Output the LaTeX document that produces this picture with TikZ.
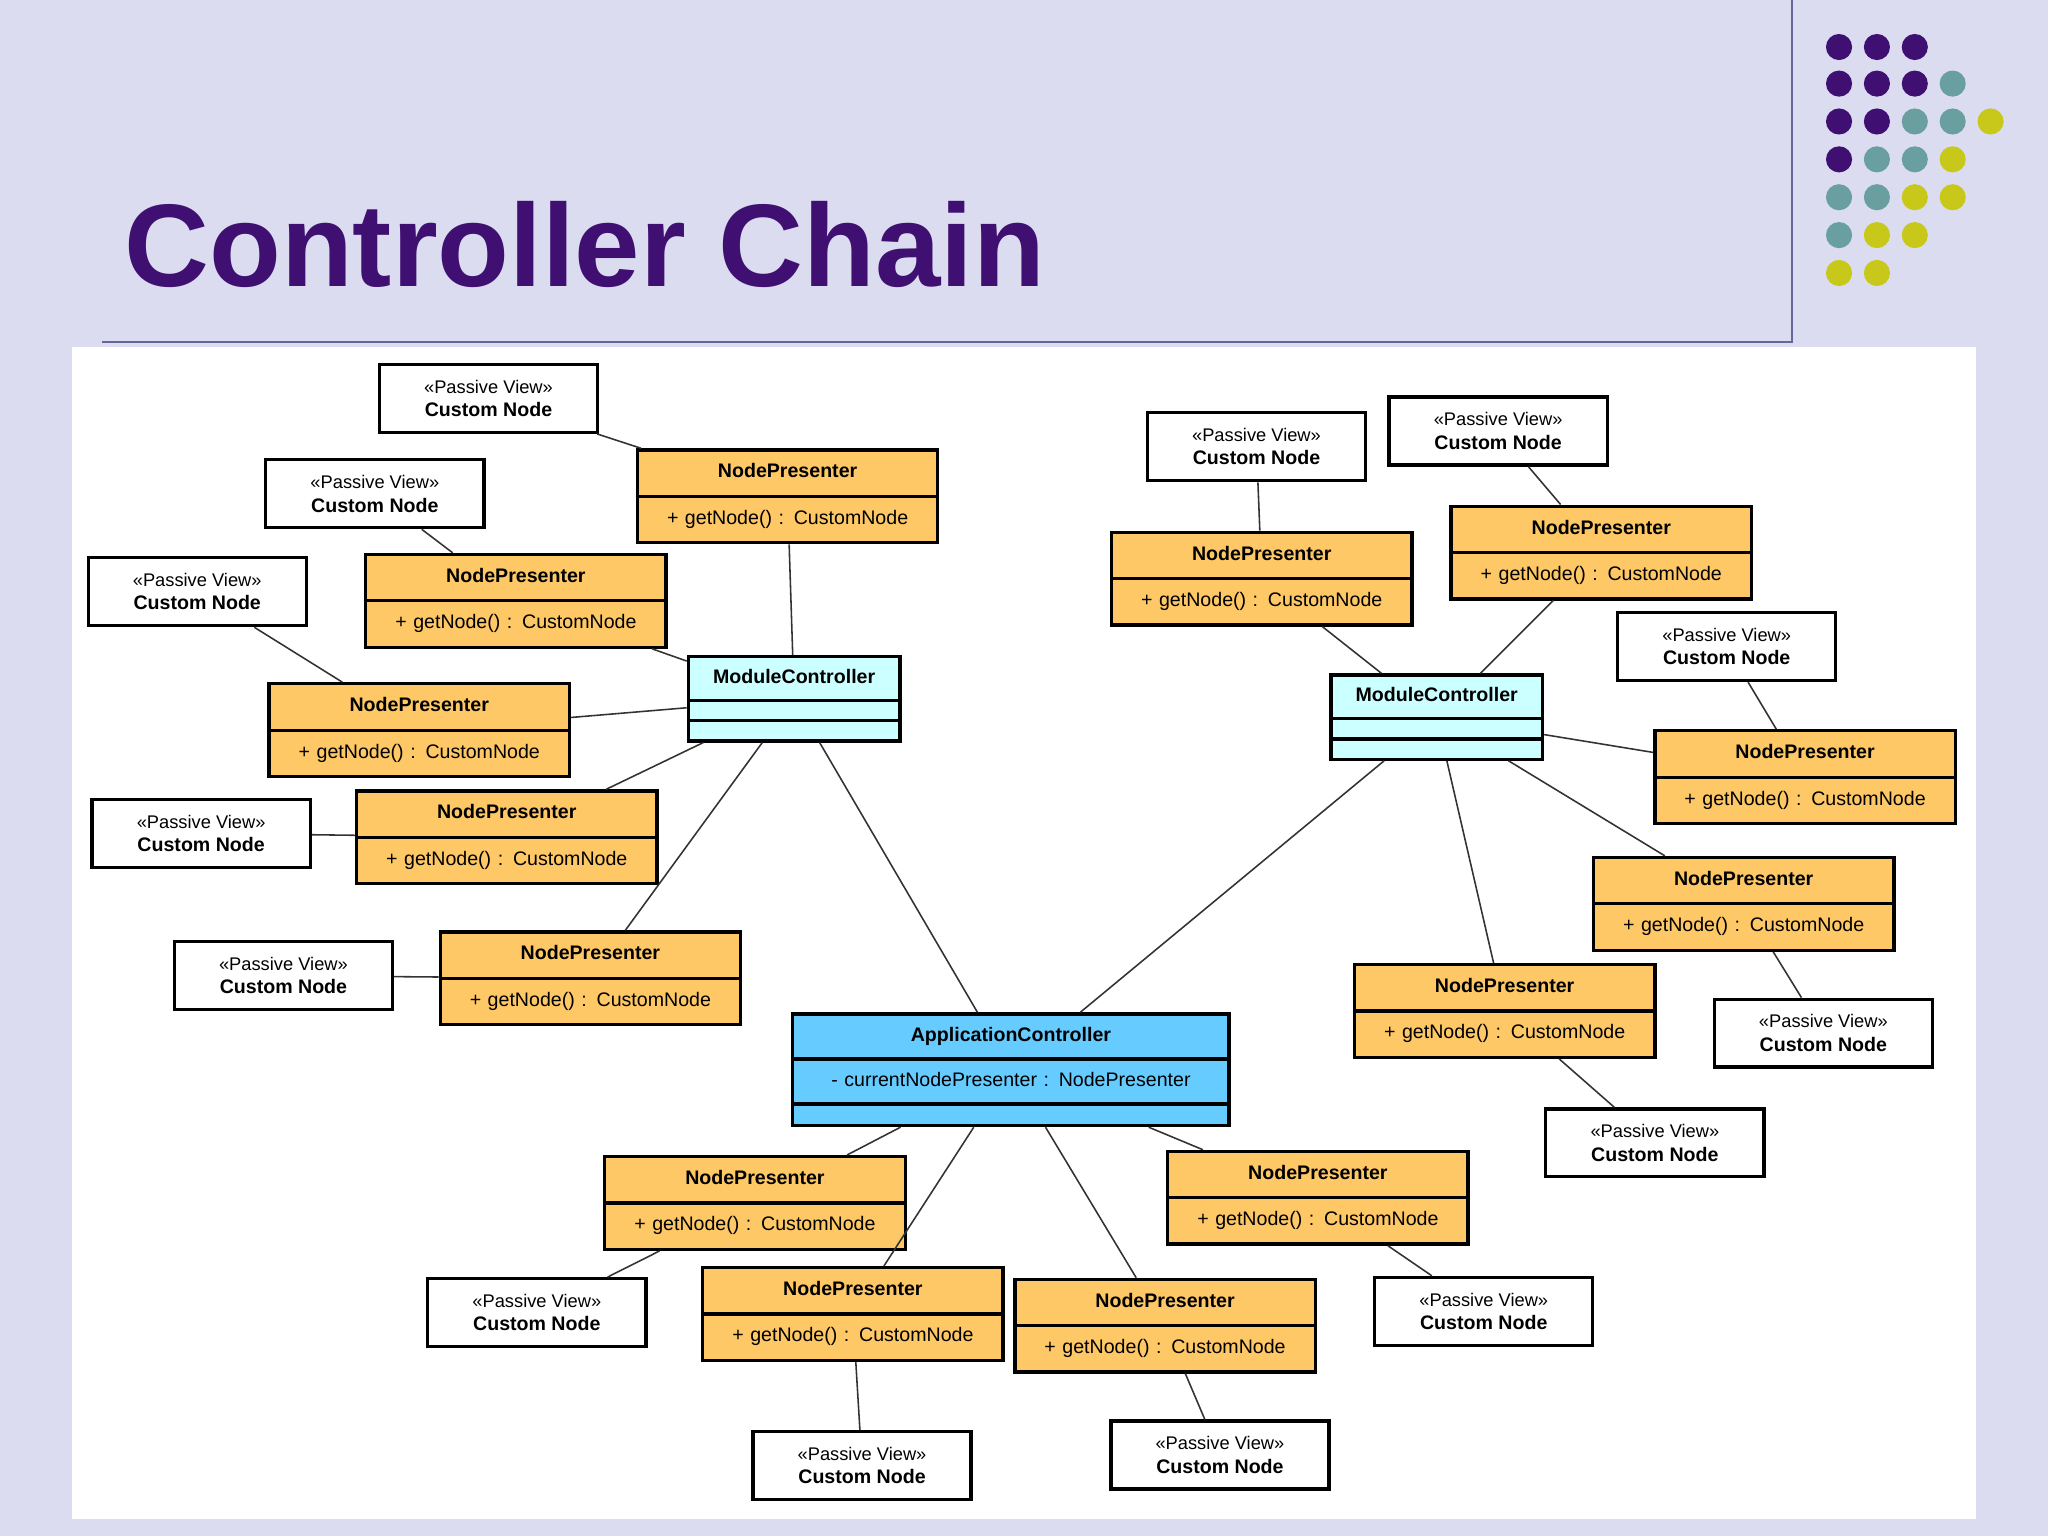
\documentclass[tikz,border=0pt]{standalone}
\usepackage{fontspec}
\setmainfont{Liberation Sans}
\usetikzlibrary{shapes.multipart}
\definecolor{slidebg}{HTML}{DCDCF0}
\definecolor{titlecol}{HTML}{3F0F72}
\definecolor{dotpurple}{HTML}{3F0F72}
\definecolor{dotteal}{HTML}{6A9FA0}
\definecolor{dotyellow}{HTML}{C8C81A}
\definecolor{presenter}{HTML}{FDC865}
\definecolor{modulec}{HTML}{CCFFFF}
\definecolor{appc}{HTML}{66CCFF}
\newcommand{\pvfont}{\fontsize{14}{17}\selectfont}
\newcommand{\npfont}{\fontsize{15}{18}\selectfont}

\begin{document}
\begin{tikzpicture}[x=1pt,y=-1pt,
    custom/.style={draw=black,line width=2.5pt,fill=white,minimum width=167pt,
        minimum height=52pt,align=center,inner sep=2pt,font=\npfont},
    presenter/.style={rectangle split,rectangle split parts=2,draw=black,
        line width=2.5pt,fill=presenter,text width=216pt,align=center,
        inner xsep=7pt,inner ysep=7.5pt,font=\npfont},
    module/.style={rectangle split,rectangle split parts=3,draw=black,
        line width=2.5pt,fill=modulec,text width=148pt,align=center,
        inner xsep=7pt,inner ysep=6.5pt,font=\npfont},
    app/.style={rectangle split,rectangle split parts=3,draw=black,
        line width=2.5pt,fill=appc,text width=320pt,align=center,
        inner xsep=7pt,inner ysep=7pt,font=\npfont},
    link/.style={line width=1.2pt,draw=black!80}]
\useasboundingbox (0,0) rectangle (1568,1176);
\fill[slidebg] (0,0) rectangle (1568,1176);
\draw[gray!80!blue,line width=1.5pt] (1372,0) -- (1372,262) -- (78,262);
\fill[white] (55,266) rectangle (1513,1163);

% title
\node[anchor=base west,inner sep=0pt,text=titlecol,
    font=\fontsize{90}{100}\selectfont\bfseries] (title) at (95,219) {Controller Chain};

% corner dots
\foreach \x/\y/\c in {1408/36/dotpurple,1437/36/dotpurple,1466/36/dotpurple,
    1408/64/dotpurple,1437/64/dotpurple,1466/64/dotpurple,1495/64/dotteal,
    1408/93/dotpurple,1437/93/dotpurple,1466/93/dotteal,1495/93/dotteal,1524/93/dotyellow,
    1408/122/dotpurple,1437/122/dotteal,1466/122/dotteal,1495/122/dotyellow,
    1408/151/dotteal,1437/151/dotteal,1466/151/dotyellow,1495/151/dotyellow,
    1408/180/dotteal,1437/180/dotyellow,1466/180/dotyellow,
    1408/209/dotyellow,1437/209/dotyellow}
    \fill[\c] (\x,\y) circle (10);

% controllers
\node[module] (mc1) at (608,535) {\textbf{ModuleController}\strut\nodepart{two}\nodepart{three}};
\node[module] (mc2) at (1100,549) {\textbf{ModuleController}\strut\nodepart{two}\nodepart{three}};
\node[app] (ac) at (774,819) {\textbf{ApplicationController}\strut
    \nodepart{two}- currentNodePresenter : NodePresenter\strut\nodepart{three}};

% presenters
\foreach \n/\x/\y in {p1/603/380,p2/395/460,p3/321/559,p4/388/641,p5/452/749,
    p6/966/443,p7/1226/423,p8/1382/595,p9/1335/692,p10/1152/774,
    p11/1009/917,p12/892/1015,p13/653/1006,p14/578/921}
    \node[presenter] (\n) at (\x,\y)
        {\textbf{NodePresenter}\strut\nodepart{two}+ getNode() : CustomNode\strut};

% custom nodes
\foreach \n/\x/\y in {c1/374/305,c2/287/378,c3/151/453,c4/154/638,c5/217/747,
    c6/962/342,c7/1147/330,c8/1322/495,c9/1396/791,c10/1267/875,
    c11/1136/1004,c12/934/1114,c13/660/1122,c14/411/1005}
    \node[custom] (\n) at (\x,\y)
        {{\pvfont <<Passive View>>}\\\textbf{Custom Node}};

% links
\foreach \i in {1,...,14}
    \draw[link] (c\i) -- (p\i);
\foreach \i in {1,...,5}
    \draw[link] (mc1) -- (p\i);
\foreach \i in {6,...,10}
    \draw[link] (mc2) -- (p\i);
\foreach \t in {mc1,mc2,p11,p12,p13,p14}
    \draw[link] (ac) -- (\t);
\end{tikzpicture}
\end{document}
